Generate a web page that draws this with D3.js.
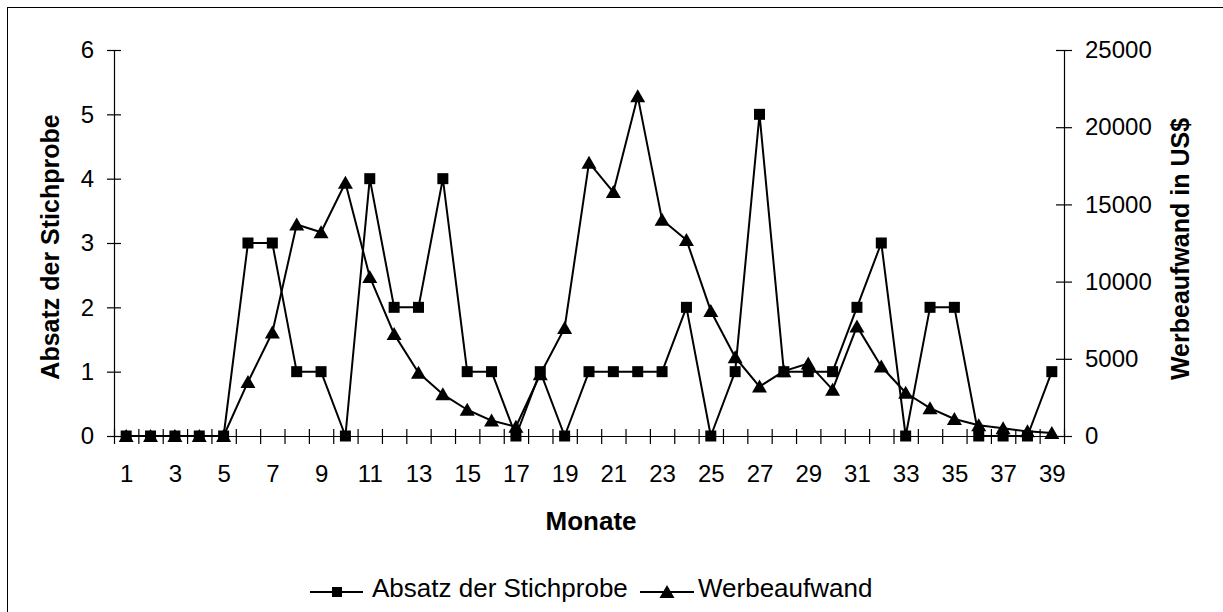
<!DOCTYPE html>
<html><head><meta charset="utf-8">
<script src="https://cdn.jsdelivr.net/npm/d3@7"></script>
<style>
body{margin:0;background:#fff}
svg{display:block}
text{font-family:"Liberation Sans",Arial,Helvetica,sans-serif;fill:#000}
</style>
</head><body>
<svg id="c" width="1223" height="612"></svg>
<script>
// ---- data ----
const months = [1,2,3,4,5,6,7,8,9,10,11,12,13,14,15,16,17,18,19,20,21,22,23,24,25,26,27,28,29,30,31,32,33,34,35,36,37,38,39];
const absatz = [0,0,0,0,0,3,3,1,1,0,4,2,2,4,1,1,0,1,0,1,1,1,1,2,0,1,5,1,1,1,2,3,0,2,2,0,0,0,1];
const werbeaufwand = [0,0,0,0,0,3500,6700,13700,13200,16400,10300,6600,4100,2700,1700,1000,600,4000,7000,17700,15800,22000,14000,12700,8100,5100,3200,4200,4700,3000,7100,4500,2800,1800,1100,700,500,300,200];
const leftTicks = [0,1,2,3,4,5,6];
const rightTicks = [0,5000,10000,15000,20000,25000];
const xTickLabels = [1,3,5,7,9,11,13,15,17,19,21,23,25,27,29,31,33,35,37,39];
const seriesNames = ["Absatz der Stichprobe","Werbeaufwand"];
const titles = {x:"Monate", yLeft:"Absatz der Stichprobe", yRight:"Werbeaufwand in US$"};

// ---- layout ----
const L=114, R=1064, T=50, B=436;
const svg = d3.select("#c");

svg.append("rect").attr("x",7.5).attr("y",7.5).attr("width",1240).attr("height",640)
  .attr("fill","none").attr("stroke","#000").attr("stroke-width",1);

const x = d3.scaleLinear().domain([0.5, months.length+0.5]).range([L,R]);
const yL = d3.scaleLinear().domain([0,6]).range([B,T]);
const yR = d3.scaleLinear().domain([0,25000]).range([B,T]);

const fs = 24;

// left axis
const gL = svg.append("g").attr("transform",`translate(${L},0)`)
  .call(d3.axisLeft(yL).tickValues(leftTicks).tickSizeInner(7).tickSizeOuter(0).tickPadding(13).tickFormat(d3.format("d")));
gL.selectAll(".tick line").attr("x1",7);
// right axis
const gR = svg.append("g").attr("transform",`translate(${R},0)`)
  .call(d3.axisRight(yR).tickValues(rightTicks).tickSizeInner(8).tickSizeOuter(0).tickPadding(13).tickFormat(d3.format("d")));
gR.selectAll(".tick line").attr("x1",-8);
// bottom axis ticks at category boundaries
const bounds = months.map(m=>m-0.5).concat([months[months.length-1]+0.5]);
const gB = svg.append("g").attr("transform",`translate(0,${B})`)
  .call(d3.axisBottom(x).tickValues(bounds).tickSizeInner(8).tickSizeOuter(0).tickFormat(""));
gB.selectAll(".tick line").attr("y1",-7);
const gBL = svg.append("g").attr("transform",`translate(0,${B})`)
  .call(d3.axisBottom(x).tickValues(xTickLabels).tickSize(0).tickPadding(29));
gBL.select(".domain").remove();

svg.selectAll(".domain").attr("stroke","#000").attr("stroke-width",1.2);
svg.selectAll(".tick line").attr("stroke","#000").attr("stroke-width",1.2);
svg.selectAll(".tick text").attr("font-size",fs).attr("font-family","Liberation Sans, Arial, sans-serif").attr("fill","#000");

// titles
svg.append("text").attr("x",(L+R)/2+2).attr("y",530).attr("text-anchor","middle")
  .attr("font-size",26).attr("font-weight","bold").text(titles.x);
svg.append("text").attr("transform","translate(59,247) rotate(-90)").attr("text-anchor","middle")
  .attr("font-size",25).attr("font-weight","bold").text(titles.yLeft);
svg.append("text").attr("transform","translate(1189,249) rotate(-90)").attr("text-anchor","middle")
  .attr("font-size",25).attr("font-weight","bold").text(titles.yRight);

// markers
const sq = 11;
const triPath = "M0,-7L7.5,6L-7.5,6Z";

// Werbeaufwand (secondary axis)
const dW = months.map((m,i)=>({m, v:werbeaufwand[i]}));
svg.append("path").datum(dW).attr("fill","none").attr("stroke","#000").attr("stroke-width",2)
  .attr("stroke-linejoin","round")
  .attr("d", d3.line().x(d=>x(d.m)).y(d=>yR(d.v)));
svg.append("g").selectAll("path").data(dW).join("path")
  .attr("d",triPath).attr("fill","#000")
  .attr("transform",d=>`translate(${x(d.m)},${yR(d.v)})`);

// Absatz (primary axis)
const dA = months.map((m,i)=>({m, v:absatz[i]}));
svg.append("path").datum(dA).attr("fill","none").attr("stroke","#000").attr("stroke-width",2)
  .attr("stroke-linejoin","round")
  .attr("d", d3.line().x(d=>x(d.m)).y(d=>yL(d.v)));
svg.append("g").selectAll("rect").data(dA).join("rect")
  .attr("x",d=>x(d.m)-sq/2).attr("y",d=>yL(d.v)-sq/2).attr("width",sq).attr("height",sq).attr("fill","#000");

// legend
const lg = svg.append("g");
const ly = 592;
lg.append("line").attr("x1",310).attr("x2",363).attr("y1",ly).attr("y2",ly).attr("stroke","#000").attr("stroke-width",2);
lg.append("rect").attr("x",337-5).attr("y",ly-5).attr("width",10).attr("height",10).attr("fill","#000");
lg.append("text").attr("x",372).attr("y",ly+5).attr("font-size",26).text(seriesNames[0]);
lg.append("line").attr("x1",640).attr("x2",694).attr("y1",ly).attr("y2",ly).attr("stroke","#000").attr("stroke-width",2);
lg.append("path").attr("d",triPath).attr("fill","#000").attr("transform",`translate(667,${ly})`);
lg.append("text").attr("x",698).attr("y",ly+5).attr("font-size",26).text(seriesNames[1]);
</script>
</body></html>
